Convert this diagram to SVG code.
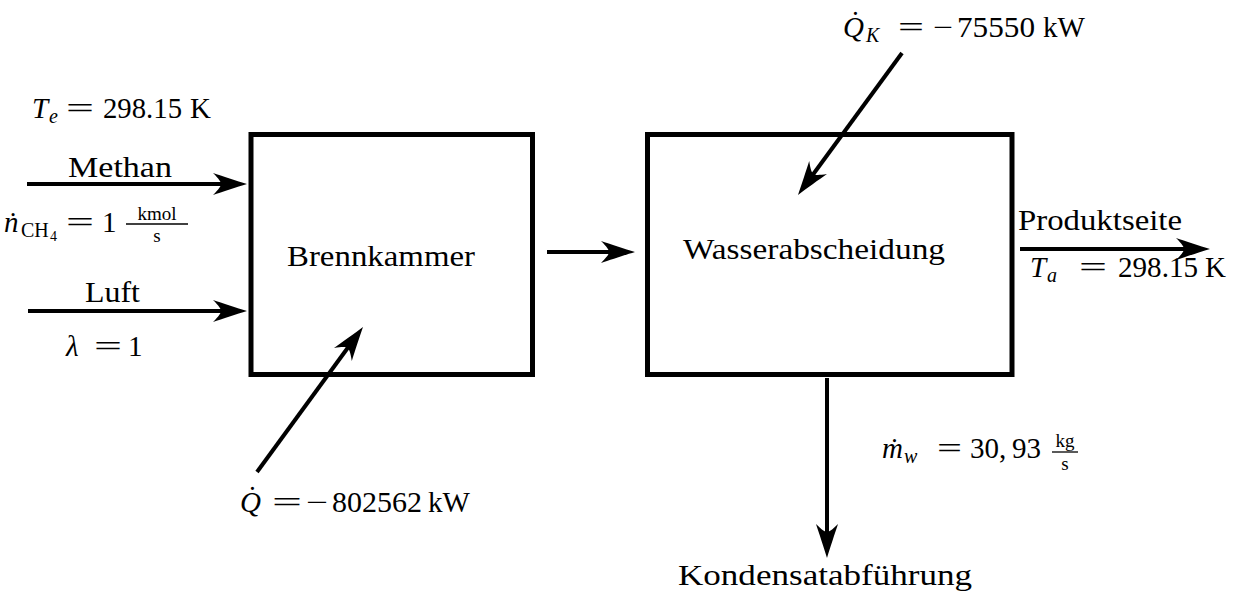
<svg xmlns="http://www.w3.org/2000/svg" width="1238" height="595" viewBox="0 0 1238 595">
  <style>
    text { font-family: "Liberation Serif", "Times New Roman", serif; font-size: 29px; fill: #000; }
    .i { font-style: italic; }
    .sub { font-size: 20px; }
    .subsub { font-size: 14px; }
    .frac { font-size: 19px; }
    .box { fill: none; stroke: #000; stroke-width: 5; }
    .flow { fill: none; stroke: #000; stroke-width: 4; marker-end: url(#head); }
    .bar { stroke: #000; stroke-width: 1.3; }
  </style>
  <defs>
    <!-- curved stealth-style arrowhead, tip 22 units past the line end -->
    <marker id="head" markerUnits="userSpaceOnUse" markerWidth="50" markerHeight="30" viewBox="-40 -15 50 30" refX="-22" refY="0" orient="auto" overflow="visible">
      <path d="M0,0 C-10,-3 -25,-8 -34,-11 C-28,-5 -26,-2 -26,0 C-26,2 -28,5 -34,11 C-25,8 -10,3 0,0 Z" fill="#000"/>
    </marker>
  </defs>

  <g id="brennkammer">
    <rect class="box" x="251" y="134.5" width="281.5" height="240"/>
    <text x="287" y="266" textLength="188" lengthAdjust="spacingAndGlyphs">Brennkammer</text>
  </g>

  <g id="wasserabscheidung">
    <rect class="box" x="647.5" y="134.5" width="364.5" height="240"/>
    <text x="683" y="259" textLength="262" lengthAdjust="spacingAndGlyphs">Wasserabscheidung</text>
  </g>

  <g id="connectors">
    <line class="flow" x1="27" y1="184" x2="225" y2="184"/>
    <line class="flow" x1="28" y1="311" x2="225" y2="311"/>
    <line class="flow" x1="547" y1="252" x2="613" y2="252"/>
    <line class="flow" x1="1020" y1="249" x2="1188" y2="249"/>
    <line class="flow" x1="257" y1="472" x2="350" y2="344.8"/>
    <line class="flow" x1="902" y1="53" x2="811" y2="177.2"/>
    <line class="flow" x1="827" y1="378" x2="827" y2="536"/>
  </g>

  <g id="inlet-labels">
    <text class="i" x="32" y="118">T</text>
    <text class="i sub" x="49" y="123">e</text>
    <text x="66" y="118" textLength="28" lengthAdjust="spacingAndGlyphs">=</text>
    <text x="103" y="118" textLength="79" lengthAdjust="spacingAndGlyphs">298.15</text>
    <text x="190" y="118">K</text>

    <text x="68" y="177" textLength="104" lengthAdjust="spacingAndGlyphs">Methan</text>

    <text class="i" x="4" y="232">ṅ</text>
    <text class="sub" x="21" y="237">CH</text>
    <text class="subsub" x="50" y="241">4</text>
    <text x="66" y="232" textLength="28" lengthAdjust="spacingAndGlyphs">=</text>
    <text x="102" y="232">1</text>
    <text class="frac" x="157" y="220" text-anchor="middle">kmol</text>
    <line class="bar" x1="126" y1="224" x2="188" y2="224"/>
    <text class="frac" x="157" y="242" text-anchor="middle">s</text>

    <text x="85" y="302" textLength="55" lengthAdjust="spacingAndGlyphs">Luft</text>

    <text class="i" x="66" y="356">λ</text>
    <text x="94" y="356" textLength="28" lengthAdjust="spacingAndGlyphs">=</text>
    <text x="128" y="356">1</text>
  </g>

  <g id="heat-brennkammer">
    <text class="i" x="240" y="512">Q̇</text>
    <text x="272" y="512" textLength="30" lengthAdjust="spacingAndGlyphs">=</text>
    <text x="306" y="512" textLength="22" lengthAdjust="spacingAndGlyphs">−</text>
    <text x="332" y="512" textLength="90" lengthAdjust="spacingAndGlyphs">802562</text>
    <text x="428" y="512">kW</text>
  </g>

  <g id="heat-wasserabscheidung">
    <text class="i" x="843" y="37">Q̇</text>
    <text class="i sub" x="866" y="42">K</text>
    <text x="898" y="37" textLength="26" lengthAdjust="spacingAndGlyphs">=</text>
    <text x="933" y="37" textLength="20" lengthAdjust="spacingAndGlyphs">−</text>
    <text x="957" y="37" textLength="78" lengthAdjust="spacingAndGlyphs">75550</text>
    <text x="1043" y="37">kW</text>
  </g>

  <g id="outlet-labels">
    <text x="1018" y="230" textLength="164" lengthAdjust="spacingAndGlyphs">Produktseite</text>
    <text class="i" x="1030" y="277">T</text>
    <text class="i sub" x="1047" y="282">a</text>
    <text x="1079" y="277" textLength="28" lengthAdjust="spacingAndGlyphs">=</text>
    <text x="1118" y="277" textLength="80" lengthAdjust="spacingAndGlyphs">298.15</text>
    <text x="1205" y="277">K</text>
  </g>

  <g id="condensate-labels">
    <text class="i" x="882" y="458">ṁ</text>
    <text class="i sub" x="904" y="463">w</text>
    <text x="937" y="458" textLength="25" lengthAdjust="spacingAndGlyphs">=</text>
    <text x="970" y="458">30,</text>
    <text x="1012" y="458">93</text>
    <text class="frac" x="1065" y="447" text-anchor="middle">kg</text>
    <line class="bar" x1="1052" y1="452" x2="1078" y2="452"/>
    <text class="frac" x="1065" y="470" text-anchor="middle">s</text>
    <text x="678" y="585" textLength="294" lengthAdjust="spacingAndGlyphs">Kondensatabführung</text>
  </g>
</svg>
